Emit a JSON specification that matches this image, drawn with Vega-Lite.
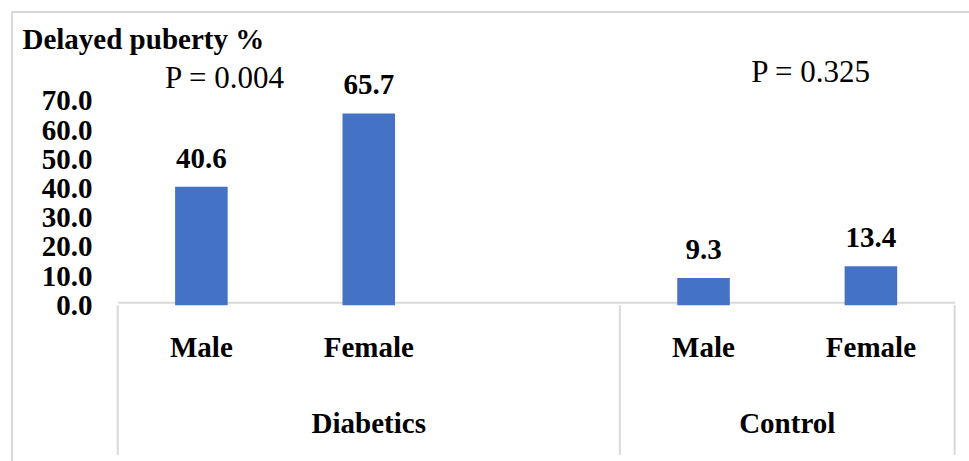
{
  "$schema": "https://vega.github.io/schema/vega-lite/v6.json",
  "width": 957,
  "height": 449,
  "autosize": {"type": "none"},
  "padding": {"left": 12, "top": 12, "right": 0, "bottom": 0},
  "background": "white",
  "config": {
    "font": "Liberation Serif",
    "text": {"font": "Liberation Serif"},
    "axis": {"labelFont": "Liberation Serif", "titleFont": "Liberation Serif"},
    "view": {"stroke": "#d9d9d9", "strokeWidth": 2, "strokeDash": [957, 1406, 449, 1000]}
  },
  "datasets": {
    "bars": [
      {"group": "Diabetics", "sex": "Male", "slot": "D-Male", "value": 40.6},
      {"group": "Diabetics", "sex": "Female", "slot": "D-Female", "value": 65.7},
      {"group": "Control", "sex": "Male", "slot": "C-Male", "value": 9.3},
      {"group": "Control", "sex": "Female", "slot": "C-Female", "value": 13.4}
    ]
  },
  "layer": [
    {
      "data": {"name": "bars"},
      "mark": {"type": "bar", "color": "#4472C4", "width": {"band": 0.314}},
      "encoding": {
        "x": {
          "field": "slot", "type": "nominal", "sort": null,
          "scale": {"domain": ["D-Male", "D-Female", "D-gap", "C-Male", "C-Female"], "range": [105.7, 942.6], "paddingInner": 0, "paddingOuter": 0},
          "axis": {
            "title": null, "orient": "bottom", "offset": -158.7,
            "domainColor": "#d9d9d9", "domainWidth": 2,
            "ticks": false, "tickSize": 0, "grid": false,
            "labelAngle": 0, "labelPadding": 54, "labelBaseline": "alphabetic",
            "labelFont": "Liberation Serif", "labelFontSize": 29, "labelFontWeight": "bold", "labelColor": "black",
            "labelOverlap": false, "labelLimit": 0,
            "labelExpr": "indexof(datum.value, 'Female') >= 0 ? 'Female' : (indexof(datum.value, 'Male') >= 0 ? 'Male' : '')"
          }
        },
        "y": {
          "field": "value", "type": "quantitative",
          "scale": {"domain": [-51.3, 70], "range": [443, 88.9], "nice": false, "zero": false},
          "axis": {
            "title": "Delayed puberty %", "titleAngle": 0, "titleAlign": "left", "titleBaseline": "alphabetic",
            "titleX": -95.7, "titleY": 36.3, "titleFont": "Liberation Serif", "titleFontSize": 29, "titleFontWeight": "bold", "titleColor": "black",
            "orient": "left", "offset": -105.7,
            "values": [0, 10, 20, 30, 40, 50, 60, 70], "format": ".1f",
            "domain": false, "ticks": false, "tickSize": 0, "grid": false,
            "labelPadding": 25.7, "labelBaseline": "middle",
            "labelFont": "Liberation Serif", "labelFontSize": 29, "labelFontWeight": "bold", "labelColor": "black",
            "labelOverlap": false, "labelFlush": false
          }
        }
      }
    },
    {
      "data": {"name": "bars"},
      "mark": {"type": "text", "font": "Liberation Serif", "baseline": "alphabetic", "align": "center", "dy": -19, "fontSize": 29, "fontWeight": "bold", "color": "black"},
      "encoding": {
        "x": {"field": "slot", "type": "nominal", "sort": null, "scale": {"domain": ["D-Male", "D-Female", "D-gap", "C-Male", "C-Female"], "range": [105.7, 942.6], "paddingInner": 0, "paddingOuter": 0}},
        "y": {"field": "value", "type": "quantitative", "scale": {"domain": [-51.3, 70], "range": [443, 88.9], "nice": false, "zero": false}},
        "text": {"field": "value", "type": "quantitative", "format": ".1f"}
      }
    },
    {
      "data": {"values": [{"slot": "D-Male"}, {"slot": "C-Male"}]},
      "mark": {"type": "rule", "color": "#d9d9d9", "strokeWidth": 2},
      "encoding": {
        "x": {"field": "slot", "type": "nominal", "sort": null, "bandPosition": 0, "scale": {"domain": ["D-Male", "D-Female", "D-gap", "C-Male", "C-Female"], "range": [105.7, 942.6], "paddingInner": 0, "paddingOuter": 0}},
        "y": {"datum": 0, "type": "quantitative", "scale": {"domain": [-51.3, 70], "range": [443, 88.9], "nice": false, "zero": false}},
        "y2": {"datum": -51.3}
      }
    },
    {
      "data": {"values": [{"slot": "C-Female"}]},
      "mark": {"type": "rule", "color": "#d9d9d9", "strokeWidth": 2},
      "encoding": {
        "x": {"field": "slot", "type": "nominal", "sort": null, "bandPosition": 1, "scale": {"domain": ["D-Male", "D-Female", "D-gap", "C-Male", "C-Female"], "range": [105.7, 942.6], "paddingInner": 0, "paddingOuter": 0}},
        "y": {"datum": 0, "type": "quantitative", "scale": {"domain": [-51.3, 70], "range": [443, 88.9], "nice": false, "zero": false}},
        "y2": {"datum": -51.3}
      }
    },
    {
      "data": {"values": [{"slot": "D-Female", "group": "Diabetics"}]},
      "mark": {"type": "text", "font": "Liberation Serif", "baseline": "alphabetic", "align": "center", "fontSize": 29, "fontWeight": "bold", "color": "black"},
      "encoding": {
        "x": {"field": "slot", "type": "nominal", "sort": null, "bandPosition": 0.5, "scale": {"domain": ["D-Male", "D-Female", "D-gap", "C-Male", "C-Female"], "range": [105.7, 942.6], "paddingInner": 0, "paddingOuter": 0}},
        "y": {"datum": -43.7, "type": "quantitative", "scale": {"domain": [-51.3, 70], "range": [443, 88.9], "nice": false, "zero": false}},
        "text": {"field": "group"}
      }
    },
    {
      "data": {"values": [{"slot": "C-Female", "group": "Control"}]},
      "mark": {"type": "text", "font": "Liberation Serif", "baseline": "alphabetic", "align": "center", "fontSize": 29, "fontWeight": "bold", "color": "black"},
      "encoding": {
        "x": {"field": "slot", "type": "nominal", "sort": null, "bandPosition": 0, "scale": {"domain": ["D-Male", "D-Female", "D-gap", "C-Male", "C-Female"], "range": [105.7, 942.6], "paddingInner": 0, "paddingOuter": 0}},
        "y": {"datum": -43.7, "type": "quantitative", "scale": {"domain": [-51.3, 70], "range": [443, 88.9], "nice": false, "zero": false}},
        "text": {"field": "group"}
      }
    },
    {
      "data": {"values": [{"slot": "D-Male", "label": "P = 0.004"}]},
      "mark": {"type": "text", "font": "Liberation Serif", "baseline": "alphabetic", "align": "center", "fontSize": 31, "fontWeight": "normal", "color": "black"},
      "encoding": {
        "x": {"field": "slot", "type": "nominal", "sort": null, "bandPosition": 0.638, "scale": {"domain": ["D-Male", "D-Female", "D-gap", "C-Male", "C-Female"], "range": [105.7, 942.6], "paddingInner": 0, "paddingOuter": 0}},
        "y": {"datum": 74.3, "type": "quantitative", "scale": {"domain": [-51.3, 70], "range": [443, 88.9], "nice": false, "zero": false}},
        "text": {"field": "label"}
      }
    },
    {
      "data": {"values": [{"slot": "C-Female", "label": "P = 0.325"}]},
      "mark": {"type": "text", "font": "Liberation Serif", "baseline": "alphabetic", "align": "center", "fontSize": 31, "fontWeight": "normal", "color": "black"},
      "encoding": {
        "x": {"field": "slot", "type": "nominal", "sort": null, "bandPosition": 0.14, "scale": {"domain": ["D-Male", "D-Female", "D-gap", "C-Male", "C-Female"], "range": [105.7, 942.6], "paddingInner": 0, "paddingOuter": 0}},
        "y": {"datum": 76.6, "type": "quantitative", "scale": {"domain": [-51.3, 70], "range": [443, 88.9], "nice": false, "zero": false}},
        "text": {"field": "label"}
      }
    }
  ]
}
